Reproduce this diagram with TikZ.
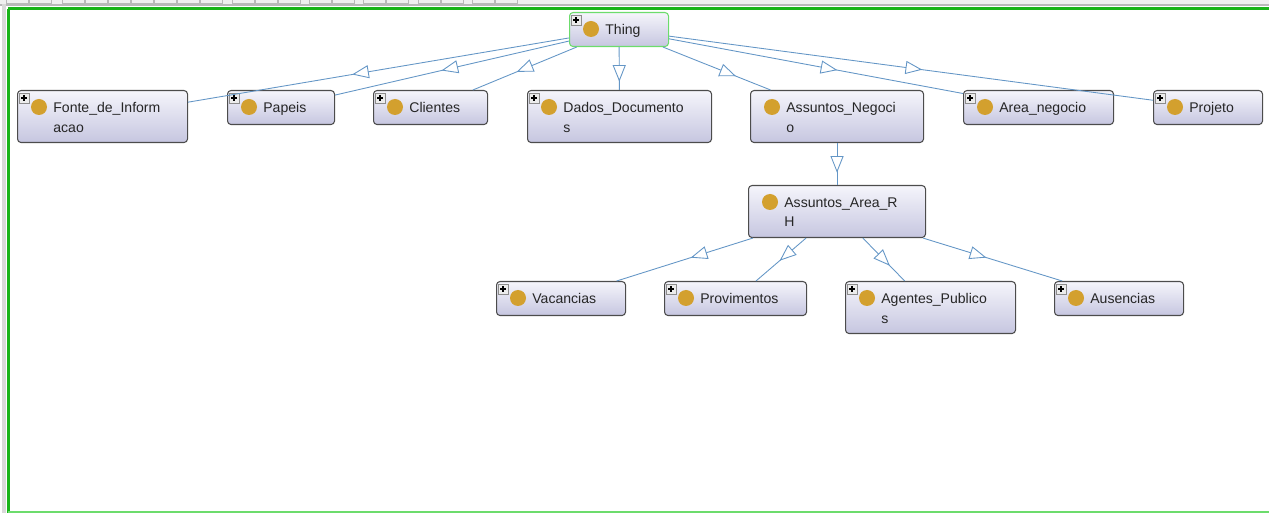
\documentclass[tikz,border=0pt]{standalone}
\usepackage{fontspec}
\setmainfont{Liberation Sans}
\usetikzlibrary{calc,decorations.markings}

\definecolor{edgeblue}{HTML}{6496C6}
\definecolor{bulletgold}{HTML}{D3A02E}
\definecolor{boxtop}{HTML}{F5F5FB}
\definecolor{boxbot}{HTML}{C6C6E0}
\definecolor{frameg}{HTML}{19B419}
\definecolor{thingg}{HTML}{6CDC6C}

\def\px{0.02cm}

\tikzset{
  cls/.style={draw=black!70, rounded corners=2pt, top color=boxtop, bottom color=boxbot,
    line width=0.6pt, inner sep=0pt, anchor=north west},
  clstext/.style={anchor=north west, align=left, inner sep=0pt,
    font=\fontsize{8}{11.34}\selectfont, text=black!85},
  plusbox/.style={draw=black!45, fill=gray!15, minimum size=10*\px, inner sep=0pt},
  edge/.style={draw=edgeblue, line width=0.5pt},
  isa/.style={decoration={markings, mark=at position 0.5 with
    {\draw[edgeblue, line width=0.5pt, fill=white] (0.15cm,0) -- (-0.15cm,0.12cm) -- (-0.15cm,-0.12cm) -- cycle;}},
    decorate}
}

% class box: [extra style] name, left, top, width, height, text
\newcommand\owlclass[7][]{%
  \node[cls, #1, minimum width=#5*\px, minimum height=#6*\px] (#2) at (#3,#4) {};
  \fill[bulletgold] ($(#2.north west)+(22,17)$) circle[radius=8*\px];
  \node[clstext] (#2-txt) at ($(#2.north west)+(36,12)$) {#7};
}
\newcommand\plusmark[1]{%
  \node[plusbox] (#1-plus) at ($(#1.north west)+(7,8)$) {};
  \draw[black, line width=0.6pt] ($(#1-plus.center)+(-3,0)$) -- ($(#1-plus.center)+(3,0)$)
    ($(#1-plus.center)+(0,-3)$) -- ($(#1-plus.center)+(0,3)$);
}

\begin{document}
\begin{tikzpicture}[x=\px, y=-\px]
  \useasboundingbox (0,0) rectangle (1269,513);
  % window frame
  \fill[gray!12] (0,0) rectangle (1269,4);
  \foreach \bx in {6,29,62,85,108,131,154,177,200,232,255,278,309,332,363,386,418,441,472,495}
    \draw[gray!55, line width=0.4pt] (\bx,-1) rectangle (\bx+22,3);
  \fill[gray!55] (0,4) rectangle (1269,6);
  \fill[gray!30] (2,4) rectangle (6,513);
  \draw[frameg, line width=3*\px] (8,9) -- (1269,9);
  \draw[frameg, line width=3*\px] (8,9) -- (8,513);
  \draw[thingg, line width=1.5*\px] (8,512) -- (1269,512);

  % classes
  \owlclass[draw=thingg]{thing}{569}{12}{99}{34}{Thing}
  \owlclass{fonte}{17}{90}{170}{52}{Fonte\_de\_Inform\\acao}
  \owlclass{papeis}{227}{90}{107}{34}{Papeis}
  \owlclass{clientes}{373}{90}{114}{34}{Clientes}
  \owlclass{dados}{527}{90}{184}{52}{Dados\_Documento\\s}
  \owlclass{assneg}{750}{90}{173}{52}{Assuntos\_Negoci\\o}
  \owlclass{area}{963}{90}{150}{34}{Area\_negocio}
  \owlclass{projeto}{1153}{90}{109}{34}{Projeto}
  \owlclass{assrh}{748}{185}{177}{52}{Assuntos\_Area\_R\\H}
  \owlclass{vac}{496}{281}{129}{34}{Vacancias}
  \owlclass{prov}{664}{281}{142}{34}{Provimentos}
  \owlclass{agentes}{845}{281}{170}{52}{Agentes\_Publico\\s}
  \owlclass{ausencias}{1054}{281}{129}{34}{Ausencias}

  \foreach \n in {thing,fonte,papeis,clientes,dados,area,projeto,vac,prov,agentes,ausencias} {
    \plusmark{\n}
  }

  % subclass edges
  \foreach \a/\b in {thing/fonte,thing/papeis,thing/clientes,thing/dados,thing/assneg,
      thing/area,thing/projeto,assneg/assrh,assrh/vac,assrh/prov,assrh/agentes,assrh/ausencias} {
    \draw[edge] (\a) -- (\b);
    \path[isa] (\a.center) -- (\b.center);
  }
\end{tikzpicture}
\end{document}
